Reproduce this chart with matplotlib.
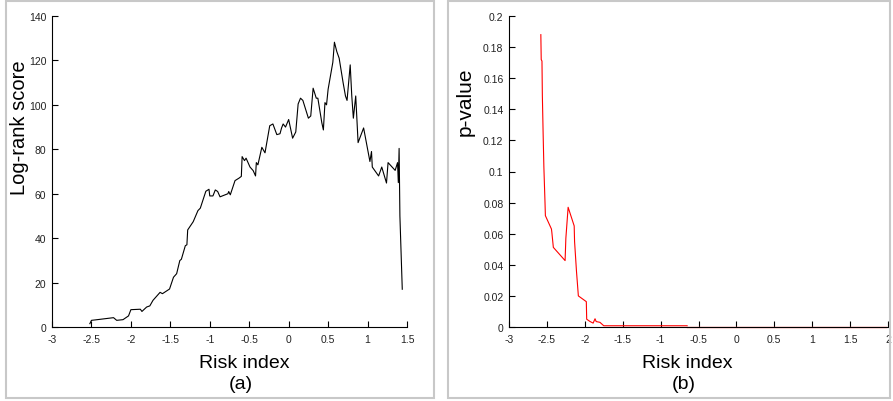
import matplotlib
matplotlib.use('Agg')
import matplotlib.pyplot as plt
from matplotlib.patches import Rectangle

# (a) log-rank score vs risk index
risk_a = [-2.52, -2.50, -2.45, -2.22, -2.18, -2.10, -2.03, -2.00, -1.88, -1.86,
          -1.80, -1.76, -1.72, -1.63, -1.60, -1.51, -1.46, -1.42, -1.38, -1.36,
          -1.31, -1.29, -1.28, -1.21, -1.15, -1.12, -1.05, -1.01, -1.00, -0.96,
          -0.93, -0.90, -0.87, -0.77, -0.76, -0.74, -0.68, -0.63, -0.60, -0.59,
          -0.56, -0.54, -0.49, -0.45, -0.42, -0.41, -0.39, -0.34, -0.30, -0.24,
          -0.20, -0.15, -0.11, -0.09, -0.07, -0.04, 0.00, 0.05, 0.09, 0.12,
          0.15, 0.18, 0.25, 0.28, 0.31, 0.35, 0.37, 0.42, 0.44, 0.46,
          0.48, 0.50, 0.56, 0.58, 0.61, 0.64, 0.69, 0.72, 0.74, 0.78,
          0.80, 0.82, 0.85, 0.88, 0.95, 1.03, 1.05, 1.06, 1.14, 1.18,
          1.24, 1.26, 1.35, 1.38, 1.39, 1.40, 1.41, 1.44]
score_a = [1.5, 3.0, 3.2, 4.2, 3.0, 3.3, 5.0, 7.8, 8.0, 7.0,
           9.0, 9.5, 12.0, 15.6, 15.0, 17.1, 22.4, 24.0, 29.9, 30.5,
           36.6, 37.0, 43.7, 47.4, 52.4, 53.5, 61.1, 62.0, 59.0, 59.0,
           61.7, 61.0, 58.6, 60.0, 61.0, 59.5, 65.9, 67.0, 67.8, 76.7,
           74.9, 76.0, 72.0, 70.4, 68.0, 74.0, 73.0, 80.9, 78.4, 90.6,
           91.4, 86.6, 87.0, 89.6, 91.4, 90.0, 93.4, 85.0, 87.8, 100.4,
           103.0, 102.0, 94.0, 95.0, 107.5, 103.0, 103.0, 92.0, 88.7, 101.0,
           100.0, 107.0, 119.2, 128.2, 124.0, 121.0, 110.0, 104.0, 102.0, 118.0,
           104.0, 94.0, 104.0, 83.0, 89.6, 74.5, 79.0, 72.0, 68.0, 72.0,
           64.8, 74.0, 70.5, 74.0, 65.0, 80.4, 50.0, 17.0]

# (b) p-value vs risk index
risk_b = [-2.58, -2.575, -2.565, -2.56, -2.55, -2.54, -2.525, -2.52, -2.44, -2.435,
          -2.415, -2.26, -2.25, -2.22, -2.14, -2.135, -2.11, -2.085, -1.98, -1.975,
          -1.93, -1.89, -1.865, -1.85, -1.80, -1.75, -0.65]
pval_b = [0.188, 0.172, 0.171, 0.149, 0.125, 0.103, 0.080, 0.0716, 0.063, 0.061,
          0.0512, 0.0427, 0.057, 0.077, 0.065, 0.055, 0.036, 0.020, 0.0163, 0.005,
          0.0035, 0.0025, 0.0053, 0.0035, 0.003, 0.0008, 0.0008]
risk_b_tail = [-0.65, 1.98]
pval_b_tail = [0.0, 0.0]

plt.rcParams['font.family'] = ['Liberation Sans', 'DejaVu Sans']

W, H = 893, 402
fig = plt.figure(figsize=(W / 100, H / 100), dpi=100)

# gray panel frames
for x0, x1 in [(6, 434), (448, 890)]:
    fig.patches.append(Rectangle((x0 / W, 3 / H), (x1 - x0) / W, 397 / H,
                                 transform=fig.transFigure, fill=False,
                                 edgecolor='#c8c8c8', lw=1.5))


def style(ax):
    for s in ['top', 'right']:
        ax.spines[s].set_visible(False)
    for s in ['left', 'bottom']:
        ax.spines[s].set_linewidth(0.8)
    ax.tick_params(direction='in', length=4, width=0.8, labelsize=7.5,
                   labelcolor='#222222')
    ax.tick_params(axis='x', pad=5)
    ax.tick_params(axis='y', pad=4)


ax1 = fig.add_axes([52 / W, 74 / H, 355 / W, 311 / H])
ax1.plot(risk_a, score_a, color='black', lw=0.8)
ax1.set_xlim(-3, 1.5)
ax1.set_ylim(0, 140)
ax1.set_xticks([-3, -2.5, -2, -1.5, -1, -0.5, 0, 0.5, 1, 1.5])
ax1.set_xticklabels(['-3', '-2.5', '-2', '-1.5', '-1', '-0.5', '0', '0.5', '1', '1.5'])
ax1.set_yticks(range(0, 141, 20))
style(ax1)
fig.text(20 / W, 1 - 128 / H, 'Log-rank score', fontsize=14.5, rotation=90,
         ha='center', va='center')
fig.text(244 / W, 1 - 363 / H, 'Risk index', fontsize=14, ha='center', va='center')
fig.text(241 / W, 1 - 385 / H, '(a)', fontsize=14, ha='center', va='center')

ax2 = fig.add_axes([509 / W, 74 / H, 379 / W, 311 / H])
ax2.plot(risk_b, pval_b, color='red', lw=0.8)
ax2.plot(risk_b_tail, pval_b_tail, color='#ff6060', lw=1.0, clip_on=False)
ax2.set_xlim(-3, 2)
ax2.set_ylim(0, 0.2)
ax2.set_xticks([-3, -2.5, -2, -1.5, -1, -0.5, 0, 0.5, 1, 1.5, 2])
ax2.set_xticklabels(['-3', '-2.5', '-2', '-1.5', '-1', '-0.5', '0', '0.5', '1', '1.5', '2'])
ax2.set_yticks([0, 0.02, 0.04, 0.06, 0.08, 0.1, 0.12, 0.14, 0.16, 0.18, 0.2])
ax2.set_yticklabels(['0', '0.02', '0.04', '0.06', '0.08', '0.1', '0.12', '0.14',
                     '0.16', '0.18', '0.2'])
style(ax2)
fig.text(465 / W, 1 - 102 / H, 'p-value', fontsize=15, rotation=90,
         ha='center', va='center')
fig.text(687 / W, 1 - 363 / H, 'Risk index', fontsize=14, ha='center', va='center')
fig.text(684 / W, 1 - 385 / H, '(b)', fontsize=14, ha='center', va='center')

fig.savefig('out.png', dpi=100)
